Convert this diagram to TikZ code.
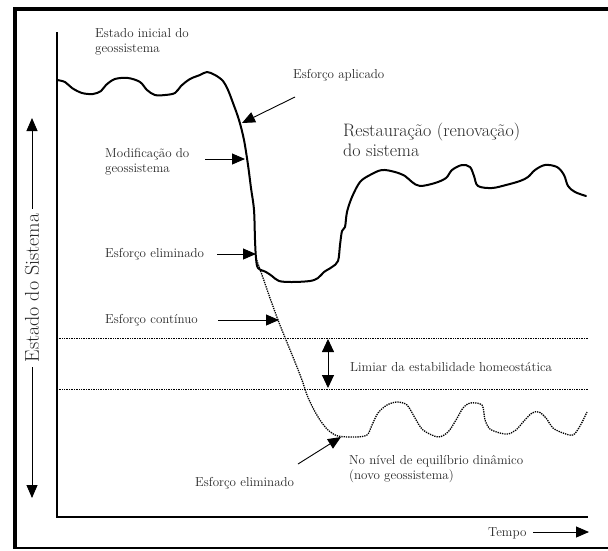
\documentclass[tikz,border=0pt]{standalone}
\usetikzlibrary{arrows.meta}
\begin{document}
\begin{tikzpicture}[x=1pt,y=-1pt,
  lbl/.style={anchor=base west,inner sep=0pt,font=\fontsize{13}{15}\selectfont,text=black!85,align=left},
  big/.style={anchor=base west,inner sep=0pt,font=\fontsize{18}{20}\selectfont,text=black!85,align=left},
  ptr/.style={line width=0.9pt,-{Triangle[length=13pt,width=11pt]}},
  solidcurve/.style={line width=2pt,line join=round,line cap=round},
  dotcurve/.style={line width=1.3pt,densely dotted},
  thr/.style={line width=0.7pt,densely dotted}]
\useasboundingbox (0,0) rectangle (608,550);
% frame
\draw[line width=4pt] (15,548) -- (15,9) -- (608,9);
\draw[line width=2pt] (13,548) -- (608,548);
% axes
\coordinate (ytop) at (57,32);
\coordinate (orig) at (57,517);
\coordinate (xend) at (588,517);
\draw[line width=2pt] (ytop) -- (orig) -- (xend);
% side arrow
\coordinate (sc) at (32,288);
\coordinate (stop) at (32,118);
\coordinate (sbot) at (32,498);
\draw[ptr] (sc) -- (stop);
\draw[ptr] (sc) -- (sbot);
\node[rotate=90,fill=white,inner sep=4pt,font=\fontsize{20}{22}\selectfont,text=black!85] (sys) at (sc) {Estado do Sistema};
% tempo
\node[anchor=base west,inner sep=0pt,text=black!85,font=\fontsize{13}{15}\selectfont] (tempo) at (488,536) {Tempo};
\coordinate (tstart) at (533,532);
\coordinate (tend) at (589,532);
\draw[ptr] (tstart) -- (tend);
% thresholds
\coordinate (t1a) at (57,338); \coordinate (t1b) at (588,338);
\coordinate (t2a) at (57,389); \coordinate (t2b) at (588,389);
\draw[thr] (t1a) -- (t1b);
\draw[thr] (t2a) -- (t2b);
\coordinate (d1) at (328,339); \coordinate (d2) at (328,388);
\draw[line width=0.9pt,{Triangle[length=13pt,width=12pt]}-{Triangle[length=13pt,width=12pt]}] (d1) -- (d2);
\node[lbl] (limiar) at (350,371) {Limiar da estabilidade homeostática};
% solid curve
\draw[solidcurve] plot[smooth,tension=0.55] coordinates {
(57,80) (65,82) (72,88) (82,93) (93,94) (101,91) (106,85) (115,79) (128,78) (140,82) (147,90) (155,95) (165,95) (175,93) (181,86) (190,79) (200,75) (207,72) (215,75) (223,81) (228,90) (233,103) (239,120) (244,140) (248,165) (251,188) (254,210) (255,240) (256,258) (258,268) (266,272) (272,276) (279,281) (292,282) (310,281) (318,278) (324,272) (332,267) (338,261) (340,245) (342,231) (345,227) (347,212) (352,197) (360,182) (370,175) (382,170) (395,172) (405,176) (412,182) (420,186) (435,183) (446,178) (452,170) (462,165) (470,167) (474,176) (478,186) (492,188) (506,185) (520,181) (528,177) (535,170) (545,165) (557,167) (564,175) (568,186) (575,192) (586,196)};
% dotted curve
\draw[dotcurve] plot[smooth,tension=0.5] coordinates {
(256,258) (262,275) (270,298) (278,320) (286,340) (295,362) (302,380) (307,395) (313,408) (320,420) (328,430) (338,436) (355,437) (367,435) (372,425) (378,413) (387,405) (397,402) (407,405) (415,418) (423,430) (438,437) (448,432) (456,420) (463,408) (470,403) (482,405) (485,420) (490,429) (500,433) (508,434) (516,430) (524,421) (532,413) (539,412) (546,418) (553,428) (563,433) (573,435) (580,426) (587,412)};
% labels
\node[lbl] (ini) at (95,52) {Estado inicial do\\geossistema};
\node[lbl] (apl) at (293,78) {Esforço aplicado};
\coordinate (aplS) at (295,97); \coordinate (aplT) at (242,123);
\draw[ptr] (aplS) -- (aplT);
\node[lbl] (mod) at (105,172) {Modificação do\\geossistema};
\coordinate (modS) at (205,159); \coordinate (modT) at (245,159);
\draw[ptr] (modS) -- (modT);
\node[lbl] (el1) at (105,257) {Esforço eliminado};
\coordinate (el1S) at (217,254); \coordinate (el1T) at (256,254);
\draw[ptr] (el1S) -- (el1T);
\node[lbl] (cont) at (105,323) {Esforço contínuo};
\coordinate (contS) at (218,320); \coordinate (contT) at (279,320);
\draw[ptr] (contS) -- (contT);
\node[lbl] (el2) at (195,486) {Esforço eliminado};
\coordinate (el2S) at (298,464); \coordinate (el2T) at (341,437);
\draw[ptr] (el2S) -- (el2T);
\node[lbl] (nivel) at (349,479) {No nível de equilíbrio dinâmico\\(novo geossistema)};
\node[big] (rest) at (343,156) {Restauração (renovação)\\do sistema};
\end{tikzpicture}
\end{document}
